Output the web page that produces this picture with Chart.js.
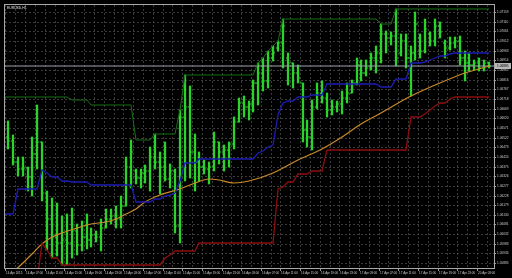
<!DOCTYPE html>
<html>
<head>
<meta charset="utf-8">
<script src="https://cdn.jsdelivr.net/npm/chart.js@4.4.1/dist/chart.umd.min.js"></script>
<style>
    html, body { margin: 0; padding: 0; background: #000; }
    #wrap { width: 512px; height: 278px; position: relative; }
</style>
</head>
<body>
<div id="wrap"><canvas id="chart-price"></canvas></div>
<script>
// EURUSD H1 bar chart with price channel (upper / lower / mid) and a slow moving average
const symbolTitle = 'EURUSD,H1';
const bidPrice = 1.06885;

const opens = [
    1.06525, 1.06505, 1.06400, 1.06360, 1.06370, 1.06320, 1.06440, 1.06500, 1.06240, 1.06110,
    1.06015, 1.05985, 1.06000, 1.05985, 1.06050, 1.05975, 1.06015, 1.06000, 1.06025, 1.06015,
    1.06065, 1.06110, 1.06125, 1.06110, 1.06175, 1.06375, 1.06350, 1.06315, 1.06340, 1.06350,
    1.06425, 1.06400, 1.06375, 1.06310, 1.06350, 1.06075, 1.06625, 1.06675, 1.06450, 1.06400,
    1.06375, 1.06360, 1.06375, 1.06500, 1.06450, 1.06460, 1.06490, 1.06600, 1.06700, 1.06675,
    1.06690, 1.06800, 1.06850, 1.06810, 1.06925, 1.06975, 1.07000, 1.06925, 1.06900, 1.06850,
    1.06800, 1.06560, 1.06525, 1.06675, 1.06750, 1.06725, 1.06660, 1.06675, 1.06690, 1.06725,
    1.06750, 1.06800, 1.06890, 1.06850, 1.06875, 1.06925, 1.06950, 1.07050, 1.07025, 1.07040,
    1.06950, 1.07010, 1.06925, 1.06950, 1.07025, 1.06960, 1.07050, 1.07010, 1.07090, 1.07000,
    1.06975, 1.07000, 1.07010, 1.06925, 1.06900, 1.06890, 1.06900, 1.06875, 1.06900,
];
const highs = [
    1.06605, 1.06535, 1.06425, 1.06425, 1.06375, 1.06525, 1.06685, 1.06500, 1.06250, 1.06215,
    1.06190, 1.06125, 1.06135, 1.06165, 1.06085, 1.06100, 1.06135, 1.06065, 1.06050, 1.06110,
    1.06160, 1.06160, 1.06175, 1.06225, 1.06425, 1.06510, 1.06365, 1.06360, 1.06385, 1.06475,
    1.06540, 1.06450, 1.06500, 1.06390, 1.06360, 1.06660, 1.06840, 1.06785, 1.06540, 1.06450,
    1.06410, 1.06400, 1.06550, 1.06500, 1.06485, 1.06500, 1.06625, 1.06725, 1.06735, 1.06710,
    1.06815, 1.06900, 1.06925, 1.06960, 1.06985, 1.07010, 1.07125, 1.06950, 1.06900, 1.06890,
    1.06800, 1.06610, 1.06715, 1.06800, 1.06810, 1.06750, 1.06715, 1.06710, 1.06760, 1.06800,
    1.06815, 1.06925, 1.06915, 1.06915, 1.06950, 1.06985, 1.07100, 1.07065, 1.07060, 1.07175,
    1.07050, 1.07050, 1.06985, 1.07160, 1.07050, 1.07125, 1.07060, 1.07125, 1.07110, 1.07015,
    1.07035, 1.07035, 1.07040, 1.06960, 1.06950, 1.06915, 1.06925, 1.06915, 1.06905,
];
const lows = [
    1.06465, 1.06385, 1.06325, 1.06325, 1.06250, 1.06225, 1.06365, 1.06200, 1.05950, 1.05910,
    1.05920, 1.05875, 1.05875, 1.05910, 1.05925, 1.05945, 1.05955, 1.05965, 1.05990, 1.05945,
    1.06065, 1.06085, 1.06065, 1.06065, 1.06175, 1.06265, 1.06285, 1.06265, 1.06290, 1.06250,
    1.06365, 1.06235, 1.06300, 1.06265, 1.06040, 1.05985, 1.06300, 1.06315, 1.06250, 1.06300,
    1.06335, 1.06285, 1.06350, 1.06390, 1.06350, 1.06375, 1.06465, 1.06600, 1.06625, 1.06610,
    1.06650, 1.06685, 1.06760, 1.06775, 1.06910, 1.06960, 1.06875, 1.06790, 1.06775, 1.06800,
    1.06500, 1.06475, 1.06460, 1.06665, 1.06700, 1.06625, 1.06635, 1.06650, 1.06640, 1.06700,
    1.06750, 1.06790, 1.06810, 1.06835, 1.06865, 1.06850, 1.06900, 1.06950, 1.06990, 1.06885,
    1.06935, 1.06875, 1.06735, 1.06915, 1.06925, 1.06950, 1.06985, 1.06985, 1.07025, 1.06925,
    1.06965, 1.06975, 1.06890, 1.06810, 1.06860, 1.06865, 1.06860, 1.06860, 1.06875,
];
const closes = [
    1.06505, 1.06400, 1.06360, 1.06370, 1.06320, 1.06440, 1.06500, 1.06240, 1.06110, 1.06015,
    1.05985, 1.06000, 1.05985, 1.06050, 1.05975, 1.06015, 1.06000, 1.06025, 1.06015, 1.06065,
    1.06110, 1.06125, 1.06110, 1.06175, 1.06375, 1.06450, 1.06315, 1.06340, 1.06350, 1.06425,
    1.06400, 1.06375, 1.06310, 1.06350, 1.06075, 1.06625, 1.06675, 1.06450, 1.06400, 1.06375,
    1.06360, 1.06375, 1.06500, 1.06450, 1.06460, 1.06490, 1.06600, 1.06700, 1.06675, 1.06690,
    1.06800, 1.06850, 1.06810, 1.06925, 1.06950, 1.07000, 1.07090, 1.06900, 1.06850, 1.06825,
    1.06560, 1.06525, 1.06675, 1.06750, 1.06725, 1.06660, 1.06675, 1.06690, 1.06725, 1.06750,
    1.06800, 1.06890, 1.06850, 1.06875, 1.06925, 1.06950, 1.07050, 1.07025, 1.07040, 1.06925,
    1.07010, 1.06925, 1.06950, 1.07100, 1.06960, 1.07075, 1.07010, 1.07090, 1.07060, 1.06975,
    1.07000, 1.07010, 1.06925, 1.06900, 1.06890, 1.06900, 1.06875, 1.06900, 1.06885,
];

// indicator lines as [bar index, price] break points
const upperBand = [
    [-1, 1.06730], [12, 1.06730], [13, 1.06713], [16, 1.06713], [17, 1.06685], [25, 1.06685],
    [26, 1.06510], [29, 1.06510], [30, 1.06540], [34, 1.06540], [35, 1.06660], [36, 1.06840],
    [50, 1.06840], [51, 1.06900], [52, 1.06925], [53, 1.06960], [54, 1.06985], [55, 1.07010],
    [56, 1.07125], [75, 1.07125], [76, 1.07100], [78, 1.07100], [79, 1.07175], [98, 1.07175],
];
const lowerBand = [
    [-1, 1.05540], [1, 1.05540], [2, 1.05790], [6, 1.05790], [7, 1.05985], [8, 1.05950],
    [9, 1.05910], [10, 1.05910], [11, 1.05875], [31, 1.05875], [32, 1.05910], [33, 1.05925],
    [34, 1.05945], [38, 1.05945], [39, 1.05985], [54, 1.05985], [55, 1.06260], [56, 1.06270],
    [57, 1.06295], [58, 1.06295], [59, 1.06335], [61, 1.06335], [62, 1.06350], [64, 1.06350],
    [65, 1.06460], [81, 1.06460], [82, 1.06625], [84, 1.06625], [85, 1.06640], [86, 1.06660],
    [87, 1.06680], [88, 1.06700], [89, 1.06700], [90, 1.06720], [91, 1.06730], [98, 1.06730],
];
const midBand = [
    [-1, 1.06135], [1, 1.06135], [2, 1.06260], [6, 1.06260], [7, 1.06358], [8, 1.06340],
    [9, 1.06320], [10, 1.06320], [11, 1.06303], [12, 1.06303], [13, 1.06295], [16, 1.06295],
    [17, 1.06280], [25, 1.06280], [26, 1.06193], [29, 1.06193], [30, 1.06208], [31, 1.06208],
    [32, 1.06225], [33, 1.06233], [34, 1.06243], [35, 1.06303], [36, 1.06393], [38, 1.06393],
    [39, 1.06413], [50, 1.06413], [51, 1.06443], [52, 1.06455], [53, 1.06473], [54, 1.06485],
    [55, 1.06635], [56, 1.06698], [57, 1.06710], [58, 1.06710], [59, 1.06730], [61, 1.06730],
    [62, 1.06738], [64, 1.06738], [65, 1.06793], [75, 1.06793], [76, 1.06780], [78, 1.06780],
    [79, 1.06818], [81, 1.06818], [82, 1.06900], [84, 1.06900], [85, 1.06908], [86, 1.06918],
    [87, 1.06928], [88, 1.06938], [89, 1.06938], [90, 1.06948], [91, 1.06953], [98, 1.06953],
];
const maLine = [
    [-1, 1.05795], [1, 1.05840], [3, 1.05885], [5, 1.05930], [7, 1.05980], [9, 1.06015],
    [11, 1.06040], [14, 1.06065], [17, 1.06085], [20, 1.06095], [22, 1.06110], [24, 1.06135],
    [26, 1.06160], [28, 1.06195], [31, 1.06230], [35, 1.06260], [38, 1.06290], [41, 1.06310],
    [43, 1.06305], [46, 1.06290], [49, 1.06300], [54, 1.06340], [59, 1.06410], [64, 1.06465],
    [68, 1.06525], [72, 1.06590], [76, 1.06645], [82, 1.06735], [88, 1.06800], [93, 1.06850],
    [98, 1.06885],
];

const priceTicks = [
    1.05885, 1.05934, 1.05983, 1.06032, 1.06081, 1.06130, 1.06179, 1.06228, 1.06277,
    1.06326, 1.06375, 1.06424, 1.06473, 1.06522, 1.06571, 1.06620, 1.06669, 1.06718,
    1.06767, 1.06816, 1.06865, 1.06914, 1.06963, 1.07012, 1.07061, 1.07110, 1.07159,
];
const timeLabels = [
    '14 Apr 2015', '14 Apr 07:00', '14 Apr 11:00', '14 Apr 15:00', '14 Apr 19:00',
    '14 Apr 23:00', '15 Apr 03:00', '15 Apr 07:00', '15 Apr 11:00', '15 Apr 15:00',
    '15 Apr 19:00', '15 Apr 23:00', '16 Apr 03:00', '16 Apr 07:00', '16 Apr 11:00',
    '16 Apr 15:00', '16 Apr 19:00', '16 Apr 23:00', '17 Apr 03:00', '17 Apr 07:00',
    '17 Apr 11:00', '17 Apr 15:00', '17 Apr 19:00', '17 Apr 23:00', '20 Apr 03:00',
];

const X_MIN = -0.6;
const X_MAX = 99;
const BAR_COLOR = '#27d427';
const GRID_COLOR = '#3b3b3b';
const TEXT_COLOR = '#cfcfcf';
const FONT = 'Liberation Sans';

const overlayPlugin = {
    id: 'mtOverlay',
    afterDraw(chart) {
        const { ctx, chartArea: a, scales } = chart;
        ctx.save();
        ctx.strokeStyle = '#a8a8a8';
        ctx.lineWidth = 1;
        ctx.strokeRect(a.left - 0.5, a.top - 0.5, a.right - a.left + 1, a.bottom - a.top + 1);

        ctx.font = `3.4px "${FONT}"`;
        ctx.fillStyle = '#e6e6e6';
        ctx.textBaseline = 'top';
        ctx.fillText(symbolTitle, a.left + 2, a.top + 1);

        // current price marker on the price scale
        const y = Math.round(scales.y.getPixelForValue(bidPrice));
        ctx.fillStyle = '#b8b8b8';
        ctx.fillRect(a.right + 1, y - 3, 16, 6);
        ctx.fillStyle = '#000';
        ctx.textBaseline = 'middle';
        ctx.font = `3.2px "${FONT}"`;
        ctx.fillText(bidPrice.toFixed(5), a.right + 3, y);
        ctx.restore();
    },
};

function lineSet(label, points, color, width, extra) {
    return {
        type: 'line',
        label,
        data: points,
        borderColor: color,
        borderWidth: width,
        pointRadius: 0,
        fill: false,
        tension: 0,
        order: 0,
        ...extra,
    };
}

function createPriceChart() {
    const canvas = document.getElementById('chart-price');
    if (!canvas) return;
    const ctx = canvas.getContext('2d');

    const bars = highs.map((h, i) => ({ x: i, y: [lows[i], h] }));
    const openTicks = opens.map((v, i) => ({ x: i - 0.22, y: v }));
    const closeTicks = closes.map((v, i) => ({ x: i + 0.22, y: v }));

    new Chart(ctx, {
        type: 'bar',
        data: {
            datasets: [
                lineSet('Upper', upperBand, '#177017', 1),
                lineSet('Lower', lowerBand, '#8e0e0e', 1.3),
                lineSet('Mid', midBand, '#1c1cb4', 1.3),
                lineSet('MA', maLine, '#c98a2a', 1.2, { cubicInterpolationMode: 'monotone' }),
                lineSet('Bid', [[X_MIN, bidPrice], [X_MAX, bidPrice]], '#9ea2ac', 1),
                {
                    type: 'bar',
                    label: 'Bars',
                    data: bars,
                    backgroundColor: BAR_COLOR,
                    borderWidth: 0,
                    barThickness: 1.6,
                    grouped: false,
                    order: 1,
                },
                {
                    type: 'scatter',
                    label: 'Open',
                    data: openTicks,
                    pointStyle: 'line',
                    pointRadius: 1.1,
                    borderColor: BAR_COLOR,
                    borderWidth: 1,
                    order: 1,
                },
                {
                    type: 'scatter',
                    label: 'Close',
                    data: closeTicks,
                    pointStyle: 'line',
                    pointRadius: 1.1,
                    borderColor: BAR_COLOR,
                    borderWidth: 1,
                    order: 1,
                },
            ],
        },
        plugins: [overlayPlugin],
        options: {
            responsive: true,
            maintainAspectRatio: false,
            devicePixelRatio: 1,
            animation: false,
            events: [],
            layout: { padding: { top: 1, left: 1, right: 0, bottom: 0 } },
            plugins: {
                legend: { display: false },
                tooltip: { enabled: false },
            },
            scales: {
                x: {
                    type: 'linear',
                    min: X_MIN,
                    max: X_MAX,
                    offset: false,
                    alignToPixels: true,
                    afterFit: s => { s.height = 10; },
                    afterBuildTicks: s => {
                        s.ticks = [];
                        for (let k = 0; k < timeLabels.length * 2; k++) s.ticks.push({ value: k * 2 - 0.5 });
                    },
                    grid: {
                        offset: false,
                        color: GRID_COLOR,
                        lineWidth: 1,
                        tickLength: 3,
                        tickColor: c => (c.index % 2 === 0 ? '#9a9a9a' : 'rgba(0,0,0,0)'),
                        tickBorderDash: [],
                    },
                    border: { display: false, dash: [2, 2] },
                    ticks: {
                        autoSkip: false,
                        maxRotation: 0,
                        minRotation: 0,
                        align: 'start',
                        labelOffset: 1,
                        padding: 0,
                        color: TEXT_COLOR,
                        font: { family: FONT, size: 3 },
                        callback: (v, i) => (i % 2 === 0 ? timeLabels[i / 2] : ''),
                    },
                },
                y: {
                    type: 'linear',
                    position: 'right',
                    min: 1.0586,
                    max: 1.07195,
                    alignToPixels: true,
                    afterFit: s => { s.width = 18; },
                    afterBuildTicks: s => { s.ticks = priceTicks.map(v => ({ value: v })); },
                    grid: {
                        color: GRID_COLOR,
                        lineWidth: 1,
                        tickLength: 2,
                        tickColor: '#9a9a9a',
                        tickBorderDash: [],
                    },
                    border: { display: false, dash: [2, 2] },
                    ticks: {
                        padding: 1,
                        color: TEXT_COLOR,
                        font: { family: FONT, size: 3.2 },
                        callback: v => v.toFixed(5),
                    },
                },
            },
        },
    });
}

createPriceChart();
</script>
</body>
</html>
